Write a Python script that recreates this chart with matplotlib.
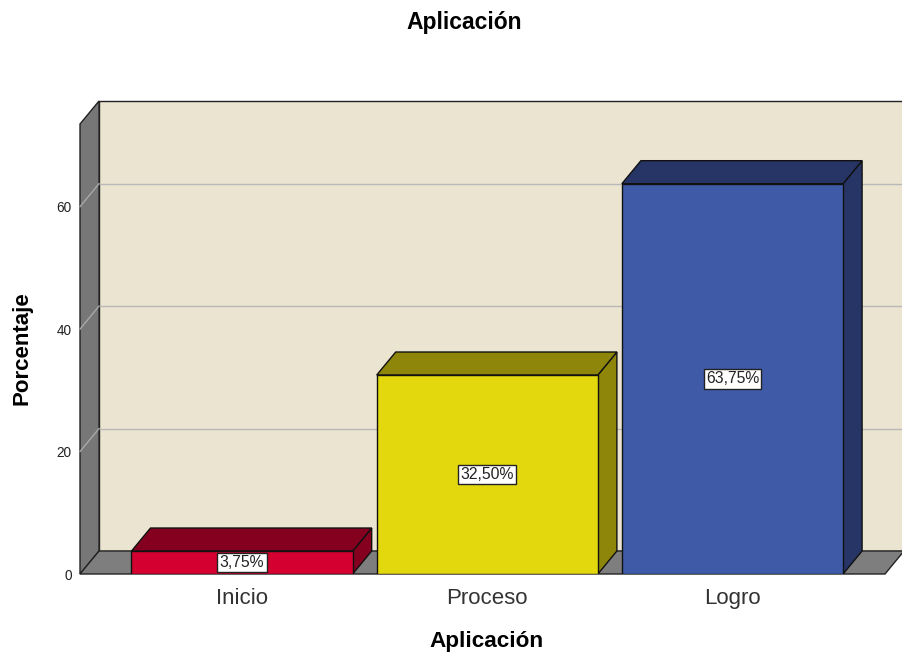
import matplotlib
matplotlib.use("Agg")
import matplotlib.pyplot as plt
import matplotlib.patches as mp

# ---- data
categories = ["Inicio", "Proceso", "Logro"]
percent = [3.75, 32.50, 63.75]
value_labels = ["3,75%", "32,50%", "63,75%"]
yticks = [0, 20, 40, 60]

FRONT = ["#D4002F", "#E3D70E", "#3F5BA8"]
DARK = ["#85001F", "#8E860A", "#263565"]
WALL, SIDE, FLOOR, GRID = "#EAE4D0", "#777777", "#7E7E7E", "#B8B8B8"

plt.rcParams["font.family"] = ["Liberation Sans", "DejaVu Sans"]

fig = plt.figure(figsize=(9.03, 6.52), dpi=100)
ax = fig.add_axes([80/903, 78/652, 805/903, 450/652])
xl, xr, ymax = -0.661, 2.622, 73.5
ax.set_xlim(xl, xr); ax.set_ylim(0, ymax)
for s in ax.spines.values():
    s.set_visible(False)

# depth offset (data units): ~19 px right, ~23 px up
dx, dy = 19/245, 23/6.12
w = 0.902

# back wall, left side wall, floor
ax.add_patch(mp.Rectangle((xl+dx, dy), xr-xl, ymax, fc=WALL, ec="#222222", lw=1.0, zorder=1, clip_on=False))
ax.add_patch(mp.Polygon([(xl, 0), (xl, ymax), (xl+dx, ymax+dy), (xl+dx, dy)],
                        fc=SIDE, ec="#222222", lw=1.0, zorder=2, clip_on=False))
for v in yticks[1:]:
    ax.plot([xl+dx, xr+dx], [v+dy, v+dy], color=GRID, lw=1.0, zorder=1.5, clip_on=False)
    ax.plot([xl, xl+dx], [v, v+dy], color="#A8A8A8", lw=1.0, zorder=2.5, clip_on=False)
ax.add_patch(mp.Polygon([(xl, 0), (xr, 0), (xr+dx, dy), (xl+dx, dy)],
                        fc=FLOOR, ec="#222222", lw=1.0, zorder=3, clip_on=False))

# 3D bars
for i, v in enumerate(percent):
    x0, x1 = i - w/2, i + w/2
    ax.add_patch(mp.Polygon([(x1, 0), (x1, v), (x1+dx, v+dy), (x1+dx, dy)],
                            fc=DARK[i], ec="#111111", lw=1.0, zorder=4))
    ax.add_patch(mp.Polygon([(x0, v), (x1, v), (x1+dx, v+dy), (x0+dx, v+dy)],
                            fc=DARK[i], ec="#111111", lw=1.0, zorder=4))
    ax.add_patch(mp.Rectangle((x0, 0), w, v, fc=FRONT[i], ec="#111111", lw=1.0, zorder=5))
    ax.text(i, v/2, value_labels[i], ha="center", va="center", fontsize=11.3, color="#222222", zorder=6,
            bbox=dict(boxstyle="square,pad=0.15", fc="white", ec="#222222", lw=1.0))

ax.set_yticks(yticks)
ax.set_yticklabels([str(t) for t in yticks], fontsize=9.8, color="#222222")
ax.set_xticks(range(len(categories)))
ax.set_xticklabels(categories, fontsize=16, color="#333333")
ax.tick_params(axis="y", length=0, pad=6)
ax.tick_params(axis="x", length=0, pad=10)

fig.text(464/903, 1-22/652, "Aplicación", ha="center", va="center", fontsize=16.5, fontweight="bold")
fig.text(487/903, 1-641/652, "Aplicación", ha="center", va="center", fontsize=16.2, fontweight="bold")
fig.text(22/903, 1-348/652, "Porcentaje", ha="center", va="center", rotation=90, fontsize=16, fontweight="bold")

fig.savefig("out.png", dpi=100)
